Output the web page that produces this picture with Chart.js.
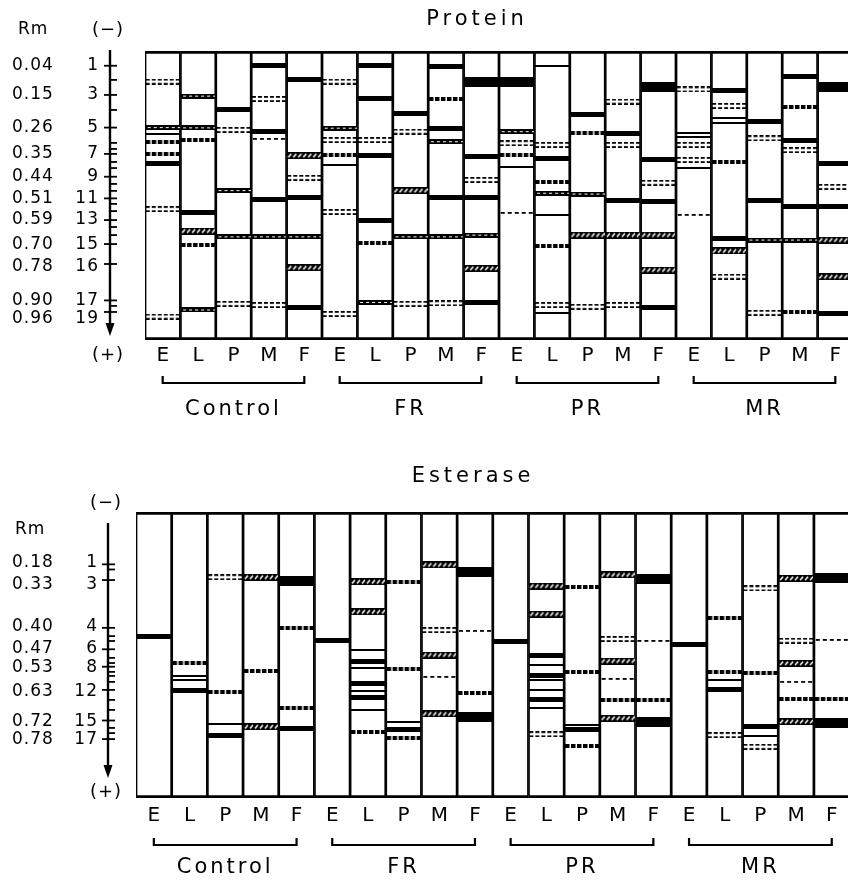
<!DOCTYPE html>
<html>
<head>
<meta charset="utf-8">
<script src="https://cdn.jsdelivr.net/npm/chart.js@4.4.1/dist/chart.umd.min.js"></script>
<style>
    html, body { margin: 0; padding: 0; background: #fff; overflow: hidden; width: 848px; height: 881px; }
    canvas { position: absolute; left: 0; }
    #proteinChart { top: 0; }
    #esteraseChart { top: 440px; }
</style>
</head>
<body>
<canvas id="proteinChart" width="860" height="440"></canvas>
<canvas id="esteraseChart" width="860" height="441"></canvas>
<script>
/* ============ DATOS ============ */

const groups = ["Control", "FR", "PR", "MR"];
const stages = ["E", "L", "P", "M", "F"];
const laneIds = groups.flatMap(g => stages.map(s => g + " " + s));

// posición relativa en el gel (0 = origen, 100 = final), [carril, posición]
const proteinSolid = [[3, 5.1], [6, 5.1], [8, 5.4], [4, 9.7], [18, 8.7], [16, 13.5], [6, 16.4], [2, 20.4], [7, 21.6], [12, 22.1],
    [17, 24.5], [3, 27.7], [8, 26.7], [13, 28.5], [18, 30.8], [6, 36.2], [9, 36.6], [11, 37.1], [14, 37.5], [0, 38.8], [19, 38.9],
    [4, 50.6], [3, 51.3], [8, 50.8], [9, 50.6], [13, 51.9], [14, 52.1], [17, 51.6], [18, 53.9], [19, 53.9], [1, 56.0], [6, 58.5],
    [16, 64.8], [4, 88.7], [9, 87.1], [14, 88.7], [19, 90.8]];
const proteinHeavy = [[9, 10.6], [10, 10.6], [14, 12.6], [19, 12.6]];
const proteinThin = [[0, 28.7], [5, 39.4], [10, 40.0], [11, 5.1], [11, 56.7], [11, 90.8], [15, 28.5], [15, 29.8], [15, 40.6],
    [16, 23.3], [16, 25.0]];
const proteinDouble = [[0, 10.6], [0, 54.7], [0, 91.9], [2, 27.3], [2, 87.5], [3, 16.6], [3, 87.9], [4, 43.9], [5, 10.6], [5, 30.8],
    [5, 55.7], [5, 91.0], [6, 30.8], [7, 27.9], [7, 87.5], [8, 87.3], [9, 44.6], [10, 31.9], [11, 32.5], [11, 87.9], [12, 88.5],
    [13, 17.5], [13, 32.5], [13, 87.9], [14, 45.6], [15, 13.3], [15, 32.5], [15, 37.7], [16, 19.0], [16, 78.1], [17, 30.2],
    [17, 90.6], [18, 34.3], [19, 47.0]];
const proteinDash = [[3, 30.4], [10, 56.0], [15, 56.7]];
const proteinBold = [[0, 31.4], [0, 35.6], [1, 30.8], [1, 67.1], [5, 36.0], [6, 66.5], [8, 16.6], [10, 36.0], [11, 45.2], [11, 67.5],
    [12, 28.5], [16, 38.3], [18, 19.3], [18, 90.2]];
const proteinHatch = [[1, 62.3], [4, 36.2], [4, 75.0], [7, 48.3], [9, 75.2], [12, 63.7], [13, 63.7], [14, 63.7], [14, 75.8],
    [16, 69.2], [19, 65.4], [19, 78.1]];
const proteinStripe = [[0, 26.5], [1, 15.6], [1, 26.6], [1, 89.6], [2, 48.3], [2, 64.3], [3, 64.3], [4, 64.3], [5, 26.7], [6, 87.0],
    [7, 64.3], [8, 31.4], [8, 64.3], [9, 63.7], [10, 27.9], [11, 49.2], [12, 49.5], [17, 65.4], [18, 65.4]];

const esteraseSolid = [[0, 43.6], [1, 62.5], [2, 78.0], [4, 75.6], [5, 44.8], [6, 52.4], [6, 60.1], [6, 65.0], [7, 76.2], [10, 45.3],
    [11, 50.0], [11, 57.0], [11, 65.5], [12, 76.2], [15, 46.5], [16, 62.0], [17, 75.1]];
const esteraseHeavy = [[4, 24.0], [9, 20.9], [9, 71.6], [14, 23.5], [14, 73.3], [19, 23.2], [19, 73.7]];
const esteraseThin = [[1, 57.3], [1, 58.7], [2, 74.2], [6, 48.4], [6, 54.5], [6, 62.6], [6, 69.2], [7, 73.3], [11, 53.5], [11, 58.7],
    [11, 62.2], [11, 68.6], [12, 74.5], [16, 58.7], [17, 78.3]];
const esteraseDouble = [[2, 22.8], [8, 41.3], [11, 77.7], [13, 44.4], [16, 78.0], [17, 26.7], [17, 82.1], [18, 45.0]];
const esteraseDash = [[8, 57.6], [9, 41.5], [13, 58.4], [14, 45.1], [18, 59.3], [19, 44.8]];
const esteraseBold = [[1, 52.9], [2, 62.8], [3, 55.5], [4, 40.7], [4, 68.6], [6, 76.8], [7, 24.4], [7, 54.9], [7, 79.1], [9, 63.4],
    [12, 26.1], [12, 56.0], [12, 81.8], [13, 65.7], [14, 65.7], [16, 37.2], [16, 55.8], [17, 56.4], [18, 65.5], [19, 65.5]];
const esteraseHatch = [[3, 22.8], [3, 75.1], [6, 24.4], [6, 34.9], [8, 18.5], [8, 50.0], [8, 70.6], [11, 25.9], [11, 35.7],
    [13, 22.0], [13, 52.1], [13, 72.1], [18, 23.2], [18, 52.9], [18, 73.3]];

// escala lateral: Rm y número de banda
const proteinRm = ["0.04", "0.15", "0.26", "0.35", "0.44", "0.51", "0.59", "0.70", "0.78", "0.90", "0.96"];
const proteinBandNo = ["1", "3", "5", "7", "9", "11", "13", "15", "16", "17", "19"];
const proteinLabelPos = [5.0, 15.2, 26.5, 35.6, 43.4, 50.9, 58.5, 67.1, 74.7, 86.2, 92.7];
const proteinMajorTicks = [5.1, 15.2, 26.5, 35.6, 43.5, 51.0, 58.5, 66.8, 73.7, 86.3, 90.3];
const proteinMinorTicks = [10.0, 20.4, 31.8, 33.9, 38.4, 40.5, 46.0, 48.4, 52.9, 55.4, 60.9, 63.7, 88.2];

const esteraseRm = ["0.18", "0.33", "0.40", "0.47", "0.53", "0.63", "0.72", "0.78"];
const esteraseBandNo = ["1", "3", "4", "6", "8", "12", "15", "17"];
const esteraseLabelPos = [17.8, 25.5, 40.2, 47.9, 54.5, 62.9, 73.4, 79.7];
const esteraseMajorTicks = [18.3, 23.8, 40.5, 48.0, 54.1, 62.2, 72.9, 79.4];
const esteraseMinorTicks = [20.1, 43.4, 45.1, 51.0, 52.8, 55.9, 57.3, 59.4, 65.7, 69.2, 75.5, 77.3];

/* ============ ESTILOS DE BANDA ============ */

const FONT = '"DejaVu Sans", sans-serif';

function bandImage(type, w) {
    const heights = { solid: 5, heavy: 10, thin: 2, double: 6, dash: 2, bold: 4, hatch: 7, stripe: 5 };
    const c = document.createElement("canvas");
    c.width = w;
    c.height = heights[type];
    const g = c.getContext("2d");
    g.fillStyle = "#000";
    if (type === "solid" || type === "heavy" || type === "thin") {
        g.fillRect(0, 0, w, c.height);
    } else if (type === "double") {
        for (let x = 0; x < w; x += 6) {
            g.fillRect(x, 0, 4, 1.8);
            g.fillRect(x, 4.2, 4, 1.8);
        }
    } else if (type === "dash") {
        for (let x = 1; x < w; x += 7) g.fillRect(x, 0, 4, 1.8);
    } else if (type === "bold") {
        for (let x = 0; x < w; x += 6) g.fillRect(x, 0, 4.5, 4);
    } else if (type === "hatch") {
        g.fillRect(0, 0, w, 7);
        g.strokeStyle = "#fff";
        g.lineWidth = 1.5;
        for (let x = 1; x < w; x += 5) {
            g.beginPath();
            g.moveTo(x, 5.3);
            g.lineTo(x + 3, 1.7);
            g.stroke();
        }
    } else if (type === "stripe") {
        g.fillRect(0, 0, w, 5);
        g.fillStyle = "#fff";
        for (let x = 2; x < w; x += 6) g.fillRect(x, 2, 3, 1);
    }
    return c;
}

/* ============ EJE LATERAL, CORCHETES Y TÍTULO ============ */

const gelAxisPlugin = {
    id: "gelAxis",
    afterDraw(chart, args, o) {
        const ctx = chart.ctx;
        const ys = chart.scales.y;
        const xs = chart.scales.x;
        ctx.save();
        ctx.fillStyle = "#000";
        ctx.strokeStyle = "#000";

        // título
        ctx.font = "21px " + FONT;
        ctx.letterSpacing = "4px";
        ctx.textAlign = "center";
        ctx.textBaseline = "middle";
        ctx.fillText(o.title, o.titleX, o.titleY);

        // cabeceras
        ctx.font = "18px " + FONT;
        ctx.letterSpacing = "1px";
        ctx.fillText("(\u2212)", o.axisX - 2, o.minusY);
        ctx.fillText("(+)", o.axisX - 2, o.plusY);
        ctx.font = "17px " + FONT;
        ctx.textAlign = "left";
        ctx.fillText("Rm", o.rmHeadX, o.rmHeadY);

        // flecha
        ctx.lineWidth = 2.4;
        ctx.beginPath();
        ctx.moveTo(o.axisX, o.arrowTop);
        ctx.lineTo(o.axisX, o.arrowBottom - 8);
        ctx.stroke();
        ctx.beginPath();
        ctx.moveTo(o.axisX - 4.5, o.arrowBottom - 13);
        ctx.lineTo(o.axisX + 4.5, o.arrowBottom - 13);
        ctx.lineTo(o.axisX, o.arrowBottom);
        ctx.closePath();
        ctx.fill();

        ctx.lineWidth = 1.8;
        o.major.forEach(v => {
            const y = ys.getPixelForValue(v);
            ctx.beginPath();
            ctx.moveTo(o.axisX - 6, y);
            ctx.lineTo(o.axisX + 7, y);
            ctx.stroke();
        });
        o.minor.forEach(v => {
            const y = ys.getPixelForValue(v);
            ctx.beginPath();
            ctx.moveTo(o.axisX, y);
            ctx.lineTo(o.axisX + 7, y);
            ctx.stroke();
        });

        // etiquetas Rm y número de banda
        ctx.font = "17px " + FONT;
        ctx.letterSpacing = "1px";
        o.labelPos.forEach((v, i) => {
            const y = ys.getPixelForValue(v);
            ctx.textAlign = "left";
            ctx.fillText(o.rm[i], o.rmX, y);
            ctx.textAlign = "right";
            ctx.fillText(o.bandNo[i], o.numX, y);
        });

        // corchetes de grupo
        ctx.lineWidth = 2.2;
        ctx.font = "21px " + FONT;
        ctx.letterSpacing = "3px";
        ctx.textAlign = "center";
        groups.forEach((g, gi) => {
            const x0 = xs.getPixelForValue(gi * 5);
            const x1 = xs.getPixelForValue(gi * 5 + 4);
            ctx.beginPath();
            ctx.moveTo(x0, o.bracketY - 7);
            ctx.lineTo(x0, o.bracketY);
            ctx.lineTo(x1, o.bracketY);
            ctx.lineTo(x1, o.bracketY - 7);
            ctx.stroke();
            ctx.fillText(g, xs.getPixelForValue(gi * 5 + 2), o.groupY);
        });
        ctx.restore();
    }
};

/* ============ GRÁFICO DE GEL ============ */

function buildGel(canvasId, bands, pad, tickPad, axisOpts) {
    const laneW = (860 - pad.left - pad.right) / laneIds.length;
    const bandW = Math.round(laneW - 2);

    const bandSets = Object.keys(bands).map(type => ({
        type: "scatter",
        data: bands[type].map(b => ({ x: laneIds[b[0]], y: b[1] })),
        pointStyle: bandImage(type, bandW),
        pointRadius: 6,
        order: 1
    }));

    new Chart(document.getElementById(canvasId), {
        type: "bar",
        data: {
            labels: laneIds,
            datasets: [{
                data: laneIds.map(() => [0, 100]),
                backgroundColor: "#fff",
                borderColor: "#000",
                borderWidth: { left: 1.7, right: 1.7, top: 3, bottom: 3 },
                borderSkipped: false,
                barPercentage: 1,
                categoryPercentage: 1,
                order: 5
            }, ...bandSets]
        },
        options: {
            responsive: false,
            animation: false,
            events: [],
            layout: { padding: pad },
            plugins: {
                legend: { display: false },
                tooltip: { enabled: false },
                gelAxis: axisOpts
            },
            scales: {
                x: {
                    type: "category",
                    offset: true,
                    grid: { display: false, drawTicks: false },
                    border: { display: false },
                    ticks: {
                        color: "#000",
                        font: { family: FONT, size: 20 },
                        padding: tickPad,
                        maxRotation: 0,
                        autoSkip: false,
                        callback: (v, i) => stages[i % stages.length]
                    },
                    afterFit: s => { s.height = 30; }
                },
                y: { type: "linear", min: 0, max: 100, reverse: true, display: false }
            }
        },
        plugins: [gelAxisPlugin]
    });
}

buildGel("proteinChart", {
    solid: proteinSolid, heavy: proteinHeavy, thin: proteinThin, double: proteinDouble,
    dash: proteinDash, bold: proteinBold, hatch: proteinHatch, stripe: proteinStripe
}, { left: 145, right: 4.4, top: 51, bottom: 70 }, 4, {
    title: "Protein", titleX: 477, titleY: 20,
    axisX: 110, arrowTop: 50, arrowBottom: 336, minusY: 30, plusY: 355,
    rmHeadX: 18, rmHeadY: 30, rmX: 12, numX: 99,
    rm: proteinRm, bandNo: proteinBandNo, labelPos: proteinLabelPos,
    major: proteinMajorTicks, minor: proteinMinorTicks,
    bracketY: 383, groupY: 410
});

buildGel("esteraseChart", {
    solid: esteraseSolid, heavy: esteraseHeavy, thin: esteraseThin, double: esteraseDouble,
    dash: esteraseDash, bold: esteraseBold, hatch: esteraseHatch
}, { left: 136, right: 10.4, top: 72, bottom: 53 }, 6, {
    title: "Esterase", titleX: 473, titleY: 37,
    axisX: 108, arrowTop: 83, arrowBottom: 338, minusY: 63, plusY: 352,
    rmHeadX: 15, rmHeadY: 90, rmX: 12, numX: 98,
    rm: esteraseRm, bandNo: esteraseBandNo, labelPos: esteraseLabelPos,
    major: esteraseMajorTicks, minor: esteraseMinorTicks,
    bracketY: 405, groupY: 428
});
</script>
</body>
</html>
